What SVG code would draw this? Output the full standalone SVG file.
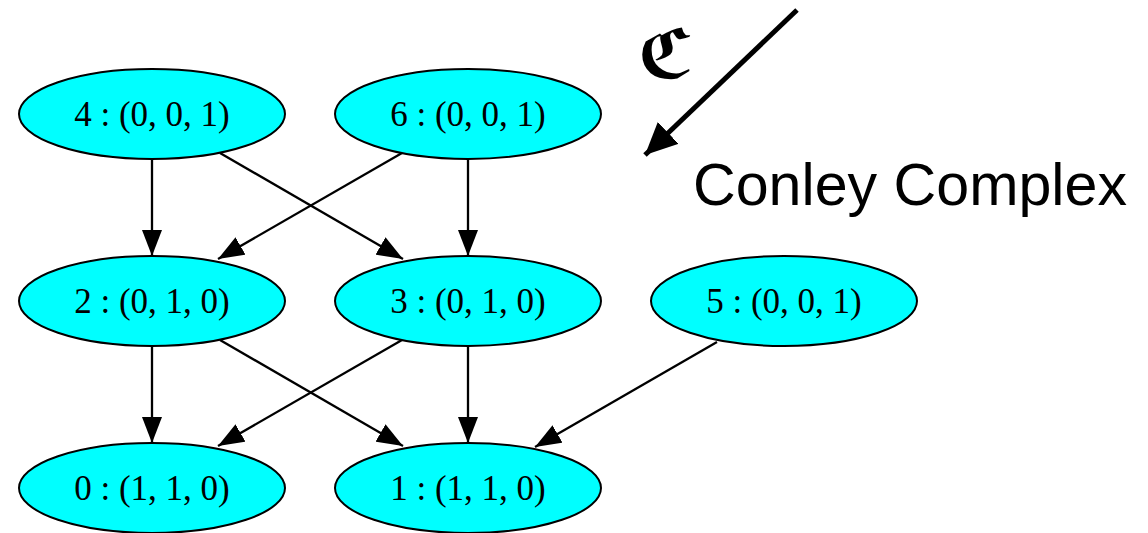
<svg xmlns="http://www.w3.org/2000/svg" width="1148" height="533" viewBox="0 0 1148 533">
  <style>
    .node ellipse { fill: #00ffff; stroke: #000; stroke-width: 2; }
    .node text { font-family: "Liberation Serif", "Times New Roman", serif; font-size: 35px; text-anchor: middle; fill: #000; }
    .edge { stroke: #000; stroke-width: 2.3; fill: none; marker-end: url(#arrow); }
    .map { stroke: #000; stroke-width: 5; fill: none; marker-end: url(#bigarrow); }
    .title { font-family: "Liberation Sans", Arial, sans-serif; font-size: 59px; fill: #000; }
    .frak { font-family: "DejaVu Serif", "DejaVu Sans", serif; font-size: 68px; font-weight: bold; fill: #000; }
  </style>
  <defs>
    <marker id="arrow" viewBox="0 0 26 20" refX="26" refY="10" markerWidth="26" markerHeight="20" markerUnits="userSpaceOnUse" orient="auto">
      <path d="M0,0 L26,10 L0,20 Z" fill="#000"/>
    </marker>
    <marker id="bigarrow" viewBox="0 0 32 30" refX="32" refY="15" markerWidth="32" markerHeight="30" markerUnits="userSpaceOnUse" orient="auto">
      <path d="M0,0 L32,15 L0,30 Z" fill="#000"/>
    </marker>
  </defs>

  <!-- edges of the Morse graph -->
  <g id="connectors">
    <line class="edge" x1="152" y1="159" x2="152" y2="256"/>
    <line class="edge" x1="220" y1="153" x2="403" y2="259"/>
    <line class="edge" x1="402" y1="153" x2="218" y2="259"/>
    <line class="edge" x1="468" y1="159" x2="468" y2="256"/>
    <line class="edge" x1="152" y1="346" x2="152" y2="443"/>
    <line class="edge" x1="220" y1="340" x2="403" y2="446"/>
    <line class="edge" x1="402" y1="340" x2="218" y2="446"/>
    <line class="edge" x1="468" y1="346" x2="468" y2="443"/>
    <line class="edge" x1="717" y1="342" x2="535" y2="447"/>
  </g>

  <g id="n4" class="node">
    <ellipse cx="152" cy="114" rx="133" ry="45"/>
    <text x="152" y="126">4 : (0, 0, 1)</text>
  </g>
  <g id="n6" class="node">
    <ellipse cx="468" cy="114" rx="133" ry="45"/>
    <text x="468" y="126">6 : (0, 0, 1)</text>
  </g>
  <g id="n2" class="node">
    <ellipse cx="152" cy="301" rx="133" ry="45"/>
    <text x="152" y="313">2 : (0, 1, 0)</text>
  </g>
  <g id="n3" class="node">
    <ellipse cx="468" cy="301" rx="133" ry="45"/>
    <text x="468" y="313">3 : (0, 1, 0)</text>
  </g>
  <g id="n5" class="node">
    <ellipse cx="784" cy="301" rx="133" ry="45"/>
    <text x="784" y="313">5 : (0, 0, 1)</text>
  </g>
  <g id="n0" class="node">
    <ellipse cx="152" cy="488" rx="133" ry="45"/>
    <text x="152" y="500">0 : (1, 1, 0)</text>
  </g>
  <g id="n1" class="node">
    <ellipse cx="468" cy="488" rx="133" ry="45"/>
    <text x="468" y="500">1 : (1, 1, 0)</text>
  </g>

  <!-- map to the Conley complex -->
  <g id="conley-map">
    <line class="map" x1="797" y1="10" x2="645" y2="155"/>
    <text class="frak" x="638" y="78">ℭ</text>
    <text class="title" x="693" y="205" textLength="434" lengthAdjust="spacingAndGlyphs">Conley Complex</text>
  </g>
</svg>
